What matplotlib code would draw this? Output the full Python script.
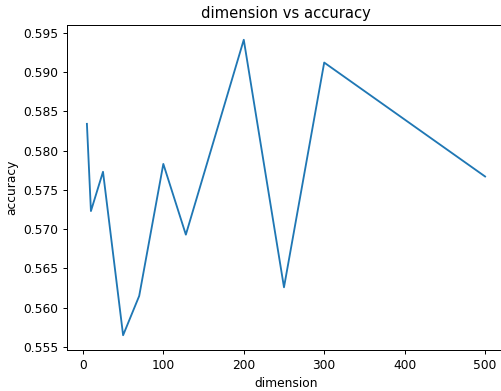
import matplotlib
matplotlib.use("Agg")
from matplotlib import pyplot as plt

# embedding dimension vs accuracy
dimensions = [5, 10, 25, 50, 70, 100, 128, 200, 250, 300, 500]
accuracy = [0.5834, 0.5723, 0.5773, 0.5565, 0.5615, 0.5783,
            0.5693, 0.5941, 0.5626, 0.5912, 0.5767]

# the reference looks like a slightly shrunk default figure, so use a lower dpi
DPI = 88.5
fig = plt.figure(figsize=(501 / DPI, 391 / DPI), dpi=DPI)
# axes runs slightly past the right edge, like the cropped original
ax = fig.add_axes([67 / 501, 41 / 391, 438 / 501, 325 / 391])

ax.plot(dimensions, accuracy)

ax.set_title("dimension vs accuracy")
ax.set_xlabel("dimension")
ax.set_ylabel("accuracy")

fig.savefig("out.png", dpi=DPI)
